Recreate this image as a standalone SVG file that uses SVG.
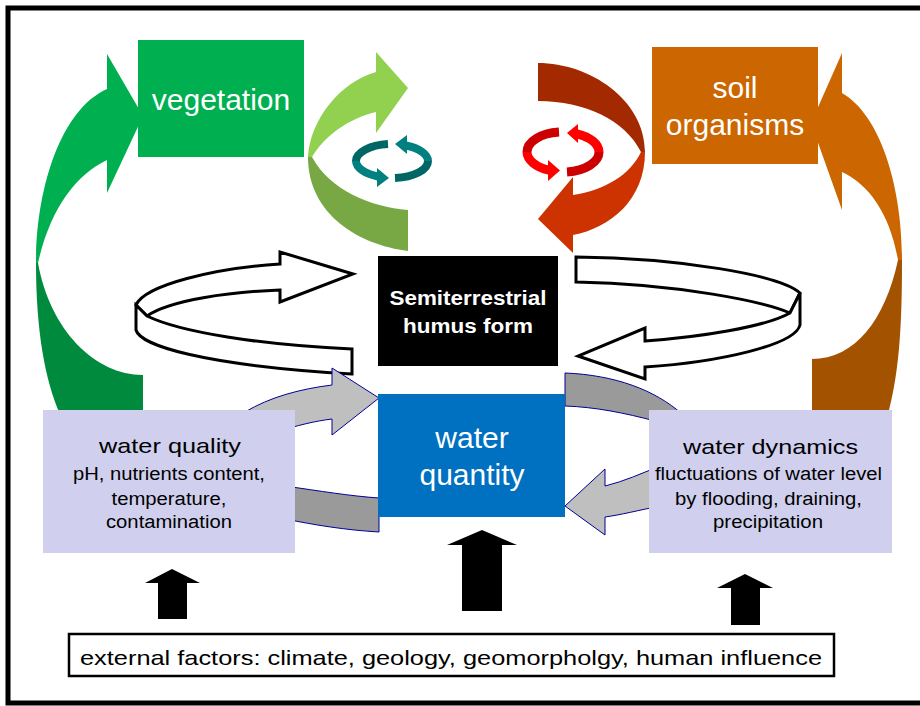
<svg xmlns="http://www.w3.org/2000/svg" width="920" height="706" viewBox="0 0 920 706">
<style>
.lbl{font-family:"Liberation Sans",Arial,sans-serif;text-anchor:middle}
.w30{font-size:30px;fill:#fff}
.t21{font-size:21px;fill:#000}
.t18{font-size:18px;fill:#000}
.bold{font-weight:bold;font-size:20px;fill:#fff}
.gray{stroke:#000099;stroke-width:1}
.rib{fill:#fff;stroke:#000;stroke-width:3;stroke-linejoin:miter}
.ring{fill:none}
</style>
<rect width="920" height="706" fill="#fff"/>

<g id="connectors">
  <!-- big left green arrow -->
  <path d="M36,263 C36,330 45,380 60,414 L143,414 L143,375 C95,375 50,330 38,263 Z" fill="#008A3E"/>
  <path d="M107,89 C60,110 36,190 36,263 L38,263 C50,210 75,175 107,160 L107,193 L143,116 L107,54 Z" fill="#00B050"/>
  <!-- big right orange arrow -->
  <path d="M902,260 C902,320 900,370 888,414 L812,414 L812,359 C855,359 885,320 898,260 Z" fill="#A35200"/>
  <path d="M842,93 C880,115 902,185 902,260 L898,260 C890,215 870,185 842,172 L842,210 L811,123 L842,53 Z" fill="#CC6600"/>
  <!-- light green circular arrow -->
  <path d="M308,157 C308,215 360,245 408,251 L408,210 C370,207 330,190 312,157 Z" fill="#77A843"/>
  <path d="M376,72 C340,82 310,120 308,157 L312,157 C325,135 350,118 376,112 L376,133 L408,88 L376,52 Z" fill="#92D050"/>
  <!-- brown-red circular arrow -->
  <path d="M538,63 C590,63 645,100 645,152 L641,152 C625,120 585,101 538,101 Z" fill="#A32A00"/>
  <path d="M645,152 C645,200 610,228 573,235 L573,253 L538,219 L573,177 L573,195 C605,190 630,175 641,152 Z" fill="#CC3300"/>
  <!-- teal small cycle -->
  <path class="ring" d="M388,144.1 A36,17 0 0,0 356,161" stroke="#006666" stroke-width="8"/>
  <path class="ring" d="M356,161 A36,17 0 0,0 378,176.5" stroke="#008080" stroke-width="8"/>
  <polygon points="377,168 389,178 377,187" fill="#008080"/>
  <path class="ring" d="M395,178 A36,17 0 0,0 428,161" stroke="#006666" stroke-width="8"/>
  <path class="ring" d="M428,161 A36,17 0 0,0 406,145.5" stroke="#008080" stroke-width="8"/>
  <polygon points="407,135 395,144 407,154" fill="#008080"/>
  <!-- red small cycle -->
  <path class="ring" d="M559,132.1 A36,20 0 0,0 527,152" stroke="#CC0000" stroke-width="9"/>
  <path class="ring" d="M527,152 A36,20 0 0,0 549,170.2" stroke="#FF0000" stroke-width="9"/>
  <polygon points="548,160 560,170.5 548,181" fill="#FF0000"/>
  <path class="ring" d="M567,171.9 A36,20 0 0,0 599,152" stroke="#CC0000" stroke-width="9"/>
  <path class="ring" d="M599,152 A36,20 0 0,0 577,133.8" stroke="#FF0000" stroke-width="9"/>
  <polygon points="578,124 567,133 578,143" fill="#FF0000"/>
  <!-- white ribbon left -->
  <path class="rib" d="M280,264 C215,268 145,285 136,305 L147,316 C170,300 230,292 280,290 L280,302 L353,274 L280,252 Z"/>
  <path class="rib" d="M136,305 L136,330 C140,345 200,365 352,374 L352,349 C260,345 180,332 147,316 Z"/>
  <!-- white ribbon right -->
  <path class="rib" d="M576,257 C680,258 780,275 800,293 L790,313 C765,302 680,284 576,282 Z"/>
  <path class="rib" d="M800,293 L800,325 C795,345 720,362 645,367 L645,379 L578,356 L645,328 L645,341 C700,337 765,327 790,313 Z"/>
  <!-- gray arrows -->
  <path class="gray" d="M379,398 L332,435 L332,419 C315,421 295,426 280,431 L240,425 L245,412 C270,397 300,389 332,385 L332,368 Z" fill="#BFBFBF"/>
  <path class="gray" d="M285,486 C320,491 350,496 379,498 L379,532 C345,530 315,525 285,519 Z" fill="#9A9A9A"/>
  <path class="gray" d="M565,373 C615,375 655,390 682,414 L655,421 C625,413 595,407 565,406 Z" fill="#9A9A9A"/>
  <path class="gray" d="M565,506 L605,469 L605,486 C625,481 640,474 660,466 L660,506 C640,510 620,515 605,517 L605,535 Z" fill="#BFBFBF"/>
  <!-- black up arrows -->
  <polygon points="172,569 200,583 187,583 187,619 158,619 158,583 145,583" fill="#000"/>
  <polygon points="482,530 517,545 502,545 502,611 462,611 462,545 447,545" fill="#000"/>
  <polygon points="745,574 773,588 760,588 760,625 731,625 731,588 717,588" fill="#000"/>
</g>

<g id="vegetation">
  <rect x="138" y="40" width="166" height="117" fill="#00B050"/>
  <text class="lbl w30" x="221" y="110">vegetation</text>
</g>
<g id="soil-organisms">
  <rect x="652" y="47" width="166" height="117" fill="#CC6600"/>
  <text class="lbl w30" x="735" y="98">soil</text>
  <text class="lbl w30" x="735" y="135">organisms</text>
</g>
<g id="humus-form">
  <rect x="378" y="256" width="180" height="110" fill="#000"/>
  <text class="lbl bold" x="468" y="305" textLength="157" lengthAdjust="spacingAndGlyphs">Semiterrestrial</text>
  <text class="lbl bold" x="468" y="333" textLength="130" lengthAdjust="spacingAndGlyphs">humus form</text>
</g>
<g id="water-quality">
  <rect x="43" y="410" width="252" height="143" fill="#D0D0EE"/>
  <text class="lbl t21" x="170" y="453" textLength="142" lengthAdjust="spacingAndGlyphs">water quality</text>
  <text class="lbl t18" x="169" y="480" textLength="192" lengthAdjust="spacingAndGlyphs">pH, nutrients content,</text>
  <text class="lbl t18" x="169" y="505" textLength="115" lengthAdjust="spacingAndGlyphs">temperature,</text>
  <text class="lbl t18" x="169" y="528" textLength="126" lengthAdjust="spacingAndGlyphs">contamination</text>
</g>
<g id="water-dynamics">
  <rect x="649" y="410" width="243" height="143" fill="#D0D0EE"/>
  <text class="lbl t21" x="770.5" y="454" textLength="175" lengthAdjust="spacingAndGlyphs">water dynamics</text>
  <text class="lbl t18" x="768.5" y="480" textLength="227" lengthAdjust="spacingAndGlyphs">fluctuations of water level</text>
  <text class="lbl t18" x="768.5" y="505" textLength="187" lengthAdjust="spacingAndGlyphs">by flooding, draining,</text>
  <text class="lbl t18" x="768" y="528" textLength="110" lengthAdjust="spacingAndGlyphs">precipitation</text>
</g>
<g id="water-quantity">
  <rect x="378" y="394" width="187" height="123" fill="#0070C0"/>
  <text class="lbl w30" x="472" y="448">water</text>
  <text class="lbl w30" x="472" y="485">quantity</text>
</g>
<g id="external-factors">
  <rect x="69" y="634" width="765" height="42" fill="#fff" stroke="#000" stroke-width="2.5"/>
  <text class="lbl t21" x="451" y="665" textLength="742" lengthAdjust="spacingAndGlyphs">external factors: climate, geology, geomorpholgy, human influence</text>
</g>
<rect id="frame" x="8" y="8" width="940" height="695" fill="none" stroke="#000" stroke-width="5"/>
</svg>
